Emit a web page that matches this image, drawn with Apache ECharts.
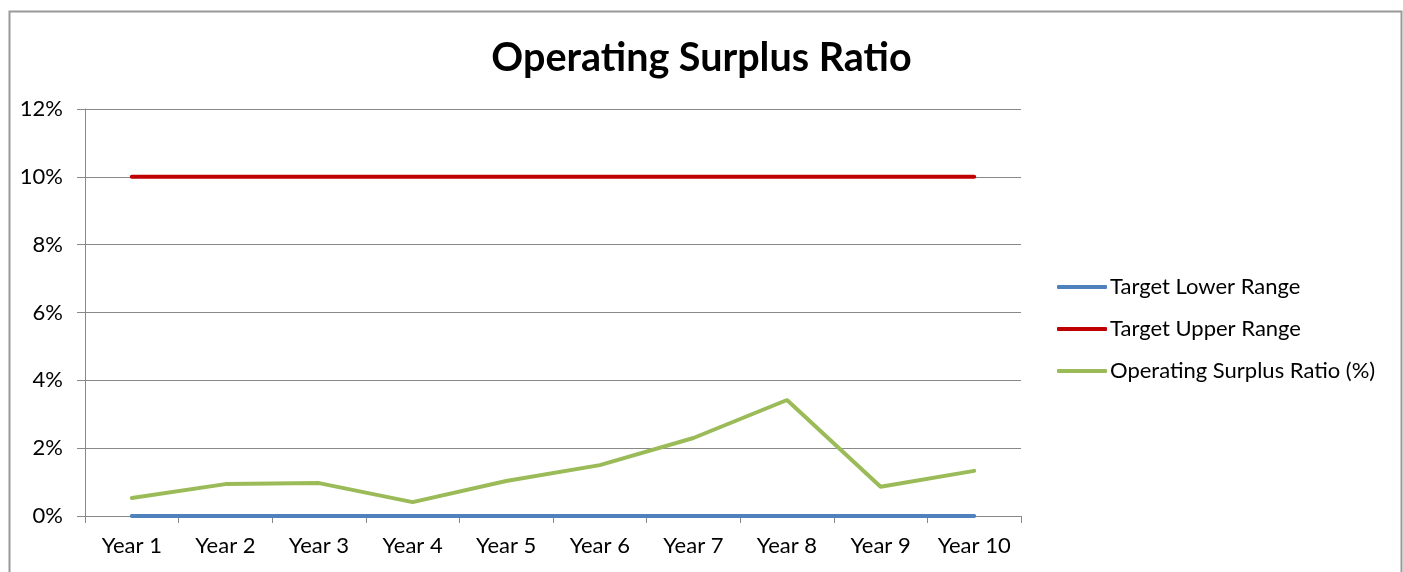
<!DOCTYPE html>
<html>
<head>
<meta charset="utf-8">
<script src="https://cdn.jsdelivr.net/npm/echarts@6/dist/echarts.min.js"></script>
<style>
html,body{margin:0;padding:0;background:#fff;}
#c{width:1403px;height:572px;}
</style>
</head>
<body>
<div id="c"></div>
<script>
const categories = ['Year 1','Year 2','Year 3','Year 4','Year 5','Year 6','Year 7','Year 8','Year 9','Year 10'];
const targetLower = [0,0,0,0,0,0,0,0,0,0];
const targetUpper = [0.10,0.10,0.10,0.10,0.10,0.10,0.10,0.10,0.10,0.10];
const operatingSurplus = [0.0053,0.0094,0.0097,0.0041,0.0103,0.0150,0.0230,0.0342,0.0086,0.0133];
const seriesNames = ['Target Lower Range','Target Upper Range','Operating Surplus Ratio (%)'];
const colors = ['#4F81BD','#C00000','#9BBB59'];

const chart = echarts.init(document.getElementById('c'));
const font = 'Lato, "Open Sans", sans-serif';
chart.setOption({
  animation: false,
  color: colors,
  graphic: [{
    type: 'rect', left: 7, top: 9,
    shape: {width: 1392, height: 620},
    style: {fill: 'none', stroke: '#999', lineWidth: 2}, silent: true
  }],
  title: {
    text: 'Operating Surplus Ratio',
    left: 'center', top: 33,
    textStyle: {fontFamily: font, fontWeight: 'bold', fontSize: 39.5, color: '#000'}
  },
  legend: {
    orient: 'vertical', left: 1052, top: 271,
    itemWidth: 50, itemHeight: 4, itemGap: 20, icon: 'roundRect',
    textStyle: {fontFamily: font, fontSize: 22, color: '#000', padding: [0,0,0,-2]},
    data: seriesNames
  },
  grid: {left: 85, right: 382, top: 109, bottom: 56, containLabel: false},
  xAxis: {
    type: 'category', data: categories, boundaryGap: true,
    axisLine: {lineStyle: {color: '#888', width: 1}},
    axisTick: {show: true, length: 7, lineStyle: {color: '#888'}},
    axisLabel: {fontFamily: font, fontSize: 22, color: '#000', margin: 19, interval: 0}
  },
  yAxis: {
    type: 'value', min: 0, max: 0.12, interval: 0.02,
    axisLine: {show: true, lineStyle: {color: '#888', width: 1}},
    axisTick: {show: true, length: 8, lineStyle: {color: '#888'}},
    splitLine: {lineStyle: {color: '#888', width: 1}},
    axisLabel: {fontFamily: font, fontSize: 22, color: '#000', margin: 22,
      formatter: v => Math.round(v*100) + '%'}
  },
  series: [
    {name: seriesNames[0], type: 'line', data: targetLower, symbol: 'none', lineStyle: {width: 4, cap: 'round'}, z: 3},
    {name: seriesNames[1], type: 'line', data: targetUpper, symbol: 'none', lineStyle: {width: 4, cap: 'round'}, z: 3},
    {name: seriesNames[2], type: 'line', data: operatingSurplus, symbol: 'none', lineStyle: {width: 4, cap: 'round'}, z: 2}
  ]
});
</script>
</body>
</html>
